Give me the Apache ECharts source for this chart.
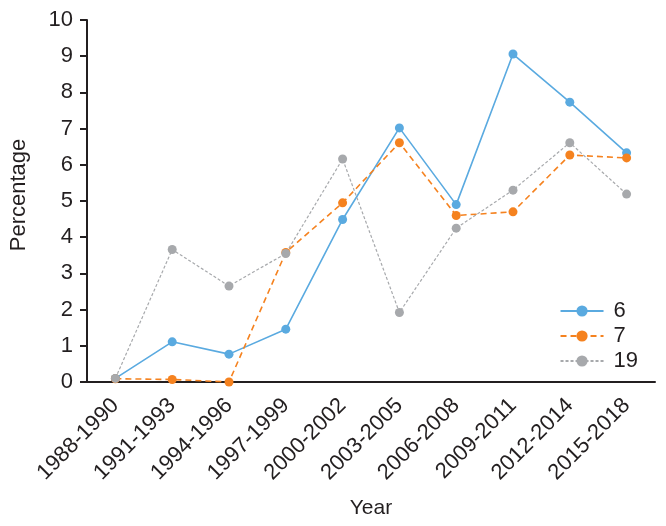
<!DOCTYPE html>
<html><head><meta charset="utf-8">
<script src="https://cdn.jsdelivr.net/npm/echarts@6/dist/echarts.min.js"></script>
<style>html,body{margin:0;padding:0;background:#fff}#c{width:666px;height:526px}</style>
</head><body><div id="c"></div>
<script>
const categories = ['1988-1990','1991-1993','1994-1996','1997-1999','2000-2002','2003-2005','2006-2008','2009-2011','2012-2014','2015-2018'];
const s6  = [0.1, 1.11, 0.77, 1.46, 4.49, 7.02, 4.9, 9.06, 7.73, 6.33];
const s7  = [0.09, 0.07, 0.0, 3.58, 4.95, 6.61, 4.6, 4.7, 6.27, 6.19];
const s19 = [0.1, 3.66, 2.65, 3.55, 6.16, 1.92, 4.25, 5.3, 6.61, 5.19];
const seriesNames = ['6','7','19'];
const yTicks = {min:0, max:10, interval:1};

const font = 'Liberation Sans, Arial, sans-serif';
const axisColor = '#231f20';
const chart = echarts.init(document.getElementById('c'));
function mk(name, data, color, type, width){
  return {name, type:'line', data, symbol:'circle', symbolSize:9,
    itemStyle:{color}, lineStyle:{color, width, type}, z: 2};
}
chart.setOption({
  animation:false,
  grid:{left:80, right:11, top:20, bottom:144, containLabel:false},
  legend:{
    right:23, top:295, orient:'vertical', itemWidth:43, itemHeight:14, itemGap:3,
    textStyle:{fontFamily:font, fontSize:22, color:axisColor, padding:[0,0,0,5]},
    data:seriesNames
  },
  xAxis:{
    type:'category', data:categories, boundaryGap:true,
    name:'Year', nameLocation:'middle', nameGap:116,
    nameTextStyle:{fontFamily:font, fontSize:21, color:axisColor},
    axisLine:{lineStyle:{color:axisColor, width:2}},
    axisTick:{length:7, lineStyle:{color:axisColor, width:2}},
    axisLabel:{rotate:45, fontFamily:font, fontSize:22, color:axisColor, margin:20, interval:0}
  },
  yAxis:{
    type:'value', min:yTicks.min, max:yTicks.max, interval:yTicks.interval,
    name:'Percentage', nameLocation:'middle', nameGap:57,
    nameTextStyle:{fontFamily:font, fontSize:22, color:axisColor, padding:[0,0,0,12]},
    axisLine:{show:true, lineStyle:{color:axisColor, width:2}},
    axisTick:{show:true, length:7, lineStyle:{color:axisColor, width:2}},
    splitLine:{show:false},
    axisLabel:{fontFamily:font, fontSize:22, color:axisColor, margin:14}
  },
  series:[
    mk('6', s6, '#5aaae0', 'solid', 1.6),
    mk('7', s7, '#f5821f', [6,4], 1.6),
    mk('19', s19, '#a7a9ac', [3,2], 1.2)
  ]
});
</script></body></html>
